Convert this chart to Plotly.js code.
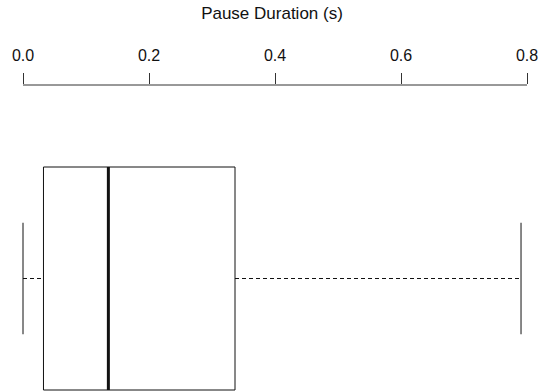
<!DOCTYPE html>
<html>
<head>
<meta charset="utf-8">
<script src="https://cdn.plot.ly/plotly-3.0.1.min.js"></script>
<style>html,body{margin:0;padding:0;background:#fff;}#chart{width:544px;height:391px;}</style>
</head>
<body>
<div id="chart"></div>
<script>
// Data
const tickValues = [0.0, 0.2, 0.4, 0.6, 0.8];
const tickLabels = ["0.0", "0.2", "0.4", "0.6", "0.8"];
const whiskerLow = [0.0];
const q1 = [0.0325];
const median = [0.1355];
const q3 = [0.3365];
const whiskerHigh = [0.7905];
const axisTitle = "Pause Duration (s)";

// Styling / geometry
const C = 1, BOXW = 0.8, STAPLE = 0.4;
const ink = '#111';
const lo = whiskerLow[0], a = q1[0], m = median[0], b = q3[0], hi = whiskerHigh[0];

const traces = [
  {type:'scatter', mode:'lines', x:[a,b,b,a,a], y:[C-BOXW/2,C-BOXW/2,C+BOXW/2,C+BOXW/2,C-BOXW/2],
   line:{color:ink,width:1}, hoverinfo:'skip'},
  {type:'scatter', mode:'lines', x:[m,m], y:[C-BOXW/2,C+BOXW/2], line:{color:ink,width:3}, hoverinfo:'skip'},
  {type:'scatter', mode:'lines', x:[lo,a], y:[C,C], line:{color:ink,width:1,dash:'4px,3px'}, hoverinfo:'skip'},
  {type:'scatter', mode:'lines', x:[b,hi], y:[C,C], line:{color:ink,width:1,dash:'4px,3px'}, hoverinfo:'skip'},
  {type:'scatter', mode:'lines', x:[lo,lo], y:[C-STAPLE/2,C+STAPLE/2], line:{color:ink,width:1}, hoverinfo:'skip'},
  {type:'scatter', mode:'lines', x:[hi,hi], y:[C-STAPLE/2,C+STAPLE/2], line:{color:ink,width:1}, hoverinfo:'skip'}
];

const pxPerUnitX = 630, padL = 10, padR = 10;
const xr = [tickValues[0] - padL/pxPerUnitX, tickValues[tickValues.length-1] + padR/pxPerUnitX];
const pxPerUnitY = 278.75, plotH = 306;
const yMin = C - BOXW/2 - 1/pxPerUnitY;
const yr = [yMin, yMin + plotH/pxPerUnitY];

const layout = {
  width:544, height:391,
  margin:{l:13, r:7, t:85, b:0},
  paper_bgcolor:'#fff', plot_bgcolor:'#fff',
  showlegend:false,
  font:{family:'Liberation Sans, Arial, sans-serif', size:16, color:ink},
  title:{text:axisTitle, x:272/544, xref:'container', xanchor:'center',
         y:1-13.5/391, yref:'container', yanchor:'middle',
         font:{family:'Liberation Sans, Arial, sans-serif', size:17, color:ink}},
  xaxis:{side:'top', range:xr, tickmode:'array', tickvals:tickValues, ticktext:tickLabels,
         ticks:'outside', ticklen:11, tickwidth:1, tickcolor:'#333',
         showline:false, zeroline:false, showgrid:false, fixedrange:true,
         ticklabelstandoff:6,
         tickfont:{family:'Liberation Sans, Arial, sans-serif', size:16, color:ink}},
  yaxis:{range:yr, visible:false, fixedrange:true},
  shapes:[{type:'line', xref:'x', yref:'paper', x0:tickValues[0], x1:tickValues[tickValues.length-1],
           y0:1, y1:1, line:{color:'#333', width:1}, layer:'above'}]
};

Plotly.newPlot('chart', traces, layout, {staticPlot:true, displayModeBar:false});
</script>
</body>
</html>
